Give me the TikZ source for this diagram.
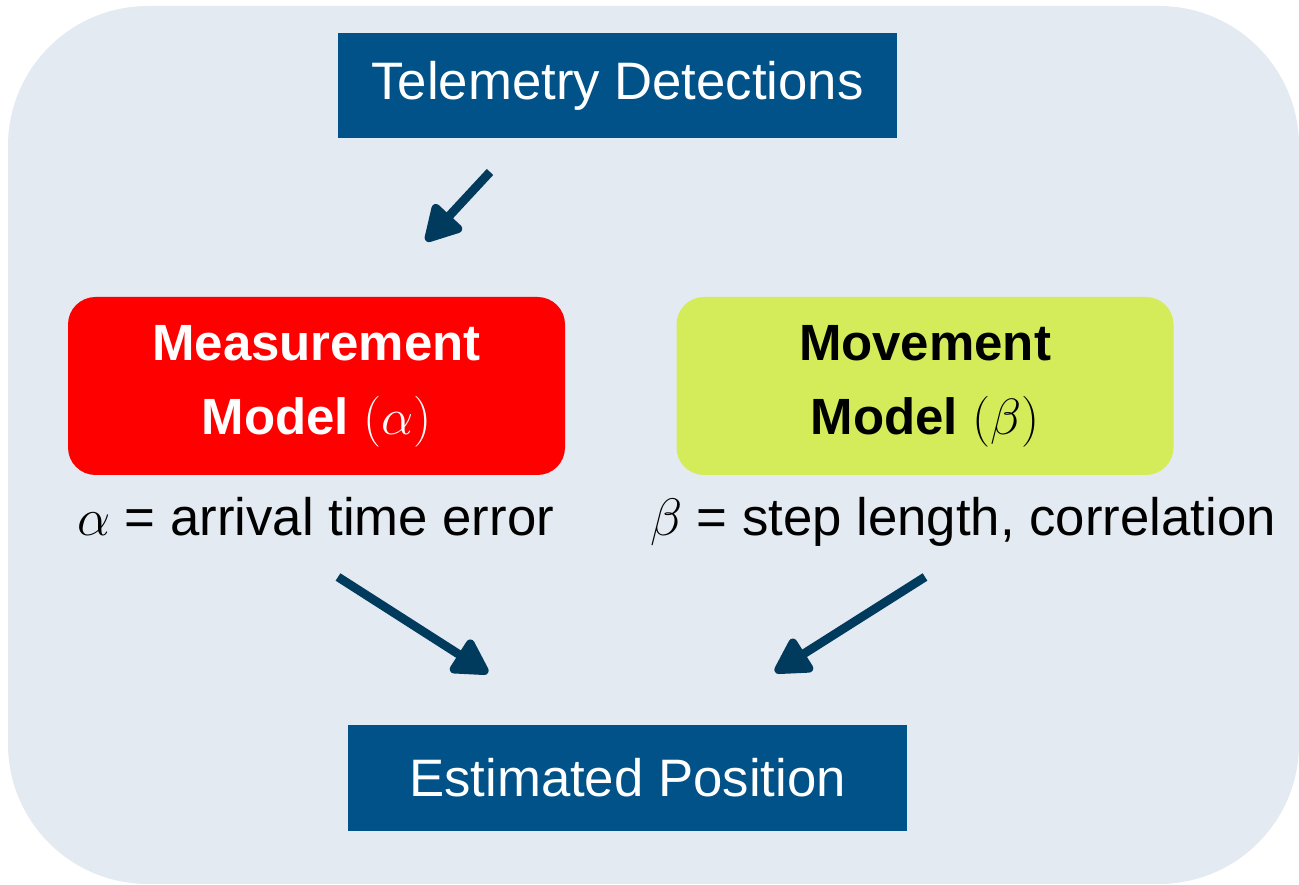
\RequirePackage{fix-cm}
\documentclass[tikz,border=0pt]{standalone}
\usepackage{amsmath,amssymb}
\usepackage{fontspec}
\setmainfont{Liberation Sans}
\usepackage{tikz}
\usetikzlibrary{arrows.meta, calc, positioning}

\definecolor{boxblue}{RGB}{0,82,136}
\definecolor{arrowblue}{RGB}{0,58,92}
\definecolor{panelgray}{RGB}{227,234,241}
\definecolor{modellime}{RGB}{212,235,90}

\begin{document}
\begin{tikzpicture}[
    darkbox/.style={fill=boxblue, text=white, minimum width=11.18cm, minimum height=2.1cm,
        font=\fontsize{30}{36}\selectfont},
    modelbox/.style={rounded corners=0.55cm, minimum width=9.94cm, minimum height=3.56cm,
        align=center, font=\fontsize{29}{42}\selectfont\bfseries},
    flow/.style={-{Triangle[length=0.8cm,width=0.85cm,round]}, line width=5pt, arrowblue},
    note/.style={anchor=base, font=\fontsize{30}{36}\selectfont}
]
            \useasboundingbox (0,0) rectangle (25.98,17.7);
            \fill[panelgray, rounded corners=2.8cm] (0.16,0.02) rectangle (25.98,17.58);
            \node[darkbox] (tele) at (12.35,15.99) {Telemetry Detections};
            \node[modelbox, fill=red, text=white] (meas) at (6.33,9.98) {Measurement\\Model $(\alpha)$};
            \node[modelbox, fill=modellime, text=black] (move) at (18.5,9.98) {Movement\\Model $(\beta)$};
            \node[note] (alab) at (6.31,6.98) {$\alpha$ = arrival time error};
            \node[note] (blab) at (19.26,6.98) {$\beta$ = step length, correlation};
            \node[darkbox, minimum height=2.12cm] (est) at (12.55,2.14) {Estimated Position};
            \coordinate (a1s) at (9.8,14.26);
            \coordinate (a1e) at (8.52,12.88);
            \coordinate (a2s) at (6.76,6.16);
            \coordinate (a2e) at (9.76,4.24);
            \coordinate (a3s) at (18.5,6.16);
            \coordinate (a3e) at (15.5,4.26);
            \draw[flow] (a1s) -- (a1e);
            \draw[flow] (a2s) -- (a2e);
            \draw[flow] (a3s) -- (a3e);
        \end{tikzpicture}
\end{document}
